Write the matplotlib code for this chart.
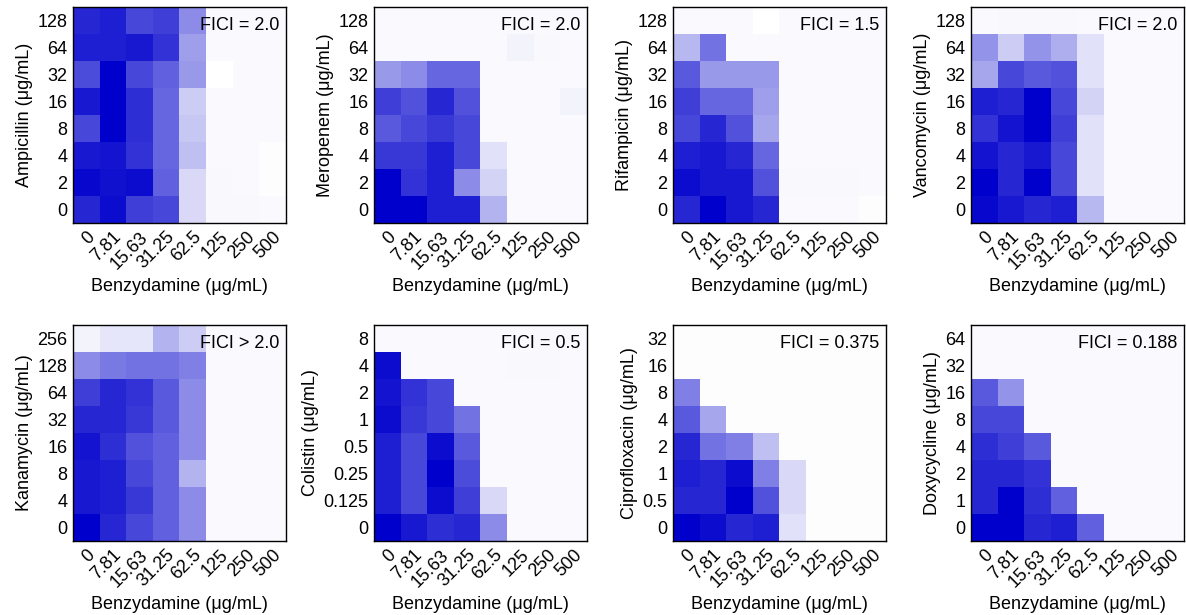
import numpy as np
import matplotlib
matplotlib.use("Agg")
import matplotlib.pyplot as plt
from matplotlib.colors import LinearSegmentedColormap

plt.rcParams['font.family'] = ['Liberation Sans', 'DejaVu Sans']

bzd_labels = ["0", "7.81", "15.63", "31.25", "62.5", "125", "250", "500"]
xlabel = "Benzydamine (μg/mL)"

# rows listed from top (highest) to bottom (0)
amp_labels = ["128", "64", "32", "16", "8", "4", "2", "0"]
amp = [
    [0.85, 0.88, 0.72, 0.75, 0.45, 0.02, 0.02, 0.02],
    [0.88, 0.88, 0.90, 0.80, 0.38, 0.02, 0.02, 0.02],
    [0.70, 1.00, 0.72, 0.62, 0.40, 0.00, 0.02, 0.02],
    [0.90, 1.00, 0.82, 0.60, 0.20, 0.02, 0.02, 0.02],
    [0.72, 1.00, 0.82, 0.60, 0.22, 0.02, 0.02, 0.02],
    [0.90, 0.92, 0.80, 0.60, 0.25, 0.02, 0.02, 0.01],
    [0.97, 0.93, 0.95, 0.62, 0.15, 0.03, 0.02, 0.01],
    [0.85, 0.95, 0.75, 0.72, 0.15, 0.03, 0.03, 0.02],
]
mer_labels = ["128", "64", "32", "16", "8", "4", "2", "0"]
mer = [
    [0.02, 0.02, 0.02, 0.02, 0.02, 0.02, 0.02, 0.02],
    [0.02, 0.02, 0.02, 0.02, 0.02, 0.05, 0.03, 0.02],
    [0.40, 0.45, 0.60, 0.60, 0.02, 0.02, 0.02, 0.02],
    [0.75, 0.68, 0.85, 0.68, 0.02, 0.02, 0.02, 0.05],
    [0.65, 0.72, 0.78, 0.72, 0.02, 0.02, 0.02, 0.02],
    [0.78, 0.78, 0.88, 0.72, 0.12, 0.02, 0.02, 0.02],
    [1.00, 0.80, 0.88, 0.45, 0.17, 0.02, 0.02, 0.02],
    [1.00, 1.00, 0.88, 0.88, 0.30, 0.02, 0.02, 0.02],
]
rif_labels = ["128", "64", "32", "16", "8", "4", "2", "0"]
rif = [
    [0.02, 0.02, 0.02, 0.00, 0.02, 0.02, 0.02, 0.02],
    [0.28, 0.55, 0.02, 0.02, 0.02, 0.02, 0.02, 0.02],
    [0.65, 0.40, 0.40, 0.40, 0.02, 0.02, 0.02, 0.02],
    [0.75, 0.60, 0.60, 0.38, 0.02, 0.02, 0.02, 0.02],
    [0.72, 0.85, 0.68, 0.35, 0.02, 0.02, 0.02, 0.02],
    [0.88, 0.90, 0.85, 0.60, 0.02, 0.02, 0.02, 0.02],
    [0.95, 0.90, 0.90, 0.68, 0.03, 0.03, 0.03, 0.02],
    [0.85, 1.00, 0.90, 0.85, 0.02, 0.02, 0.02, 0.01],
]
van_labels = ["128", "64", "32", "16", "8", "4", "2", "0"]
van = [
    [0.02, 0.03, 0.03, 0.03, 0.02, 0.02, 0.02, 0.02],
    [0.42, 0.20, 0.42, 0.32, 0.12, 0.02, 0.02, 0.02],
    [0.35, 0.72, 0.65, 0.68, 0.12, 0.02, 0.02, 0.02],
    [0.88, 0.85, 1.00, 0.72, 0.17, 0.02, 0.02, 0.02],
    [0.80, 0.92, 1.00, 0.75, 0.12, 0.02, 0.02, 0.02],
    [0.92, 0.85, 0.90, 0.72, 0.12, 0.02, 0.02, 0.02],
    [1.00, 0.85, 1.00, 0.72, 0.12, 0.02, 0.02, 0.02],
    [0.97, 0.90, 0.85, 0.88, 0.28, 0.02, 0.02, 0.02],
]
kan_labels = ["256", "128", "64", "32", "16", "8", "4", "0"]
kan = [
    [0.05, 0.10, 0.10, 0.30, 0.20, 0.02, 0.02, 0.02],
    [0.45, 0.52, 0.55, 0.55, 0.50, 0.02, 0.02, 0.02],
    [0.75, 0.85, 0.80, 0.65, 0.45, 0.02, 0.02, 0.02],
    [0.85, 0.85, 0.78, 0.65, 0.45, 0.02, 0.02, 0.02],
    [0.92, 0.82, 0.68, 0.62, 0.45, 0.02, 0.02, 0.02],
    [0.90, 0.88, 0.72, 0.62, 0.30, 0.02, 0.02, 0.02],
    [0.90, 0.88, 0.78, 0.62, 0.45, 0.02, 0.02, 0.02],
    [1.00, 0.85, 0.72, 0.62, 0.45, 0.02, 0.02, 0.02],
]
col_labels = ["8", "4", "2", "1", "0.5", "0.25", "0.125", "0"]
col = [
    [0.02, 0.02, 0.02, 0.02, 0.02, 0.02, 0.03, 0.02],
    [0.95, 0.02, 0.02, 0.02, 0.02, 0.03, 0.03, 0.02],
    [0.92, 0.80, 0.72, 0.02, 0.02, 0.02, 0.02, 0.02],
    [0.95, 0.78, 0.72, 0.55, 0.02, 0.02, 0.02, 0.02],
    [0.88, 0.72, 0.95, 0.65, 0.02, 0.02, 0.02, 0.02],
    [0.88, 0.72, 1.00, 0.70, 0.02, 0.02, 0.02, 0.02],
    [0.88, 0.72, 0.95, 0.75, 0.15, 0.02, 0.02, 0.02],
    [1.00, 0.90, 0.82, 0.85, 0.45, 0.02, 0.02, 0.02],
]
cip_labels = ["32", "16", "8", "4", "2", "1", "0.5", "0"]
cip = [
    [0.01, 0.01, 0.01, 0.01, 0.01, 0.01, 0.01, 0.01],
    [0.01, 0.01, 0.01, 0.01, 0.01, 0.01, 0.01, 0.01],
    [0.50, 0.01, 0.01, 0.01, 0.01, 0.01, 0.01, 0.01],
    [0.65, 0.35, 0.01, 0.01, 0.01, 0.01, 0.01, 0.01],
    [0.85, 0.55, 0.50, 0.25, 0.01, 0.01, 0.01, 0.01],
    [0.88, 0.85, 0.95, 0.50, 0.15, 0.01, 0.01, 0.01],
    [0.85, 0.85, 1.00, 0.68, 0.15, 0.01, 0.01, 0.01],
    [1.00, 0.95, 0.85, 0.88, 0.12, 0.01, 0.01, 0.01],
]
dox_labels = ["64", "32", "16", "8", "4", "2", "1", "0"]
dox = [
    [0.02, 0.02, 0.02, 0.02, 0.02, 0.02, 0.02, 0.02],
    [0.02, 0.02, 0.02, 0.02, 0.02, 0.02, 0.02, 0.02],
    [0.65, 0.42, 0.02, 0.02, 0.02, 0.02, 0.02, 0.02],
    [0.72, 0.72, 0.02, 0.02, 0.02, 0.02, 0.02, 0.02],
    [0.82, 0.75, 0.65, 0.02, 0.02, 0.02, 0.02, 0.02],
    [0.85, 0.85, 0.80, 0.02, 0.02, 0.02, 0.02, 0.02],
    [0.85, 1.00, 0.82, 0.62, 0.02, 0.02, 0.02, 0.02],
    [1.00, 1.00, 0.85, 0.88, 0.62, 0.02, 0.02, 0.02],
]

panels = [
    ("Ampicillin (μg/mL)", amp_labels, amp, "FICI = 2.0"),
    ("Meropenem (μg/mL)", mer_labels, mer, "FICI = 2.0"),
    ("Rifampicin (μg/mL)", rif_labels, rif, "FICI = 1.5"),
    ("Vancomycin (μg/mL)", van_labels, van, "FICI = 2.0"),
    ("Kanamycin (μg/mL)", kan_labels, kan, "FICI > 2.0"),
    ("Colistin (μg/mL)", col_labels, col, "FICI = 0.5"),
    ("Ciprofloxacin (μg/mL)", cip_labels, cip, "FICI = 0.375"),
    ("Doxycycline (μg/mL)", dox_labels, dox, "FICI = 0.188"),
]

cmap = LinearSegmentedColormap.from_list("wb", ["#FFFFFF", "#0000CC"])

W, H = 1186, 615
fig = plt.figure(figsize=(W / 100, H / 100), dpi=100)
lefts = [73, 374, 673, 971]
tops = [7, 325]
aw, ah = 213, 216

for i, (ylab, ylabels, data, fici) in enumerate(panels):
    r, c = divmod(i, 4)
    ax = fig.add_axes([lefts[c] / W, 1 - (tops[r] + ah) / H, aw / W, ah / H])
    ax.imshow(np.array(data), cmap=cmap, vmin=0, vmax=1, aspect='auto',
              interpolation='nearest')
    ax.set_xticks(range(len(bzd_labels)))
    ax.set_xticklabels(bzd_labels, rotation=45, ha='right',
                       rotation_mode='anchor', fontsize=13)
    ax.set_yticks(range(len(ylabels)))
    ax.set_yticklabels(ylabels, fontsize=13)
    ax.tick_params(length=0, pad=4)
    ax.set_xlabel(xlabel, fontsize=13, labelpad=4)
    ax.set_ylabel(ylab, fontsize=13, labelpad=3)
    for s in ax.spines.values():
        s.set_linewidth(1.0)
        s.set_color('black')
    ax.text(0.97, 0.955, fici, transform=ax.transAxes, ha='right', va='top',
            fontsize=13)

fig.savefig("out.png", dpi=100)
